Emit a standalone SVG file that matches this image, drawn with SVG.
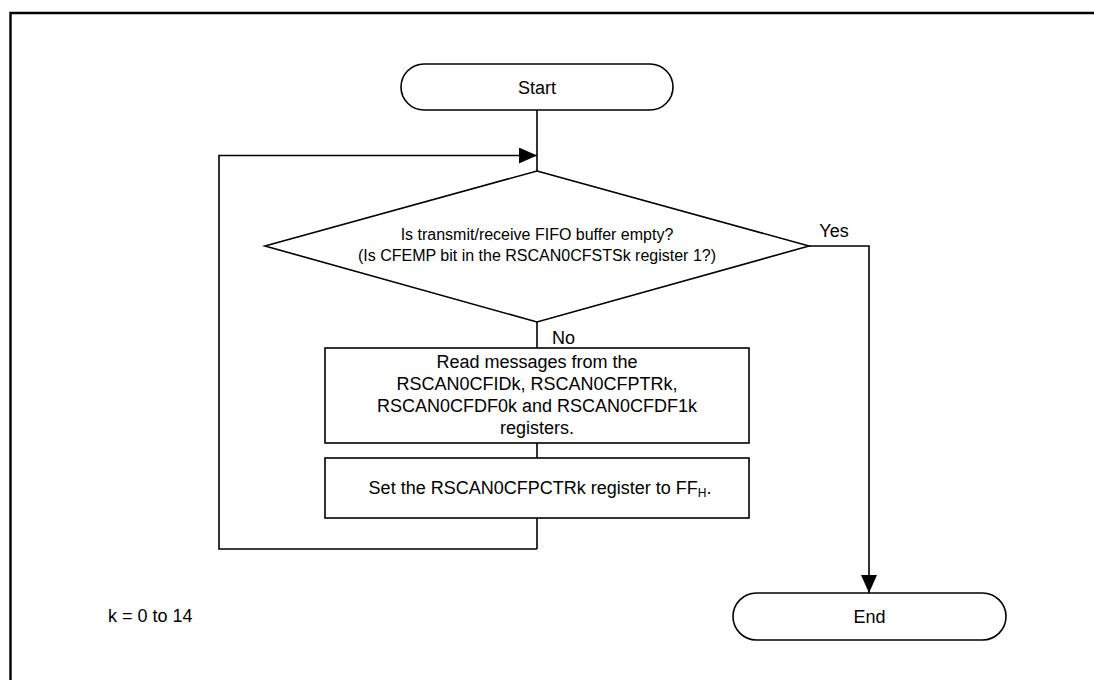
<svg xmlns="http://www.w3.org/2000/svg" width="1094" height="680" viewBox="0 0 1094 680">
<style>
.s{fill:#fff;stroke:#000;stroke-width:1.6}
.c{fill:none;stroke:#000;stroke-width:1.6}
text{font-family:"Liberation Sans",Arial,sans-serif;font-size:18px;fill:#000}
.m{text-anchor:middle}
.d{font-size:16px}
</style>
<defs>
<marker id="ah" markerWidth="18" markerHeight="16" refX="18" refY="8" orient="auto" markerUnits="userSpaceOnUse">
<path d="M0,0 L18,8 L0,16 Z" fill="#000"/>
</marker>
</defs>
<rect width="1094" height="680" fill="#fff"/>
<path d="M10.5,680 V13 H1094" fill="none" stroke="#000" stroke-width="2.4"/>
<g id="connectors">
<path class="c" d="M537,110 V171"/>
<path class="c" d="M537,549 H219 V155.5 H537" marker-end="url(#ah)"/>
<path class="c" d="M537,322 V348"/>
<path class="c" d="M537,443 V458"/>
<path class="c" d="M537,518 V549"/>
<path class="c" d="M809,246 H869 V593" marker-end="url(#ah)"/>
<text x="834" y="237" class="m">Yes</text>
<text x="552" y="344">No</text>
</g>
<g id="start">
<rect class="s" x="401" y="64" width="272" height="46" rx="23"/>
<text x="537" y="94" class="m">Start</text>
</g>
<g id="decision">
<polygon class="s" points="537,171 809,246 537,322 265,246"/>
<text x="537" y="240" class="m d">Is transmit/receive FIFO buffer empty?</text>
<text x="537" y="261" class="m d">(Is CFEMP bit in the RSCAN0CFSTSk register 1?)</text>
</g>
<g id="read">
<rect class="s" x="325" y="348" width="424" height="95"/>
<text x="537" y="368" class="m">Read messages from the</text>
<text x="537" y="390" class="m">RSCAN0CFIDk, RSCAN0CFPTRk,</text>
<text x="537" y="412" class="m">RSCAN0CFDF0k and RSCAN0CFDF1k</text>
<text x="537" y="434" class="m">registers.</text>
</g>
<g id="set">
<rect class="s" x="325" y="458" width="424" height="60"/>
<text x="540" y="494" class="m">Set the RSCAN0CFPCTRk register to FF<tspan font-size="12" dy="3">H</tspan><tspan dy="-3">.</tspan></text>
</g>
<g id="end">
<rect class="s" x="733" y="593" width="273" height="47" rx="23.5"/>
<text x="869.5" y="623" class="m">End</text>
</g>
<g id="note">
<text x="108" y="622">k = 0 to 14</text>
</g>
</svg>
